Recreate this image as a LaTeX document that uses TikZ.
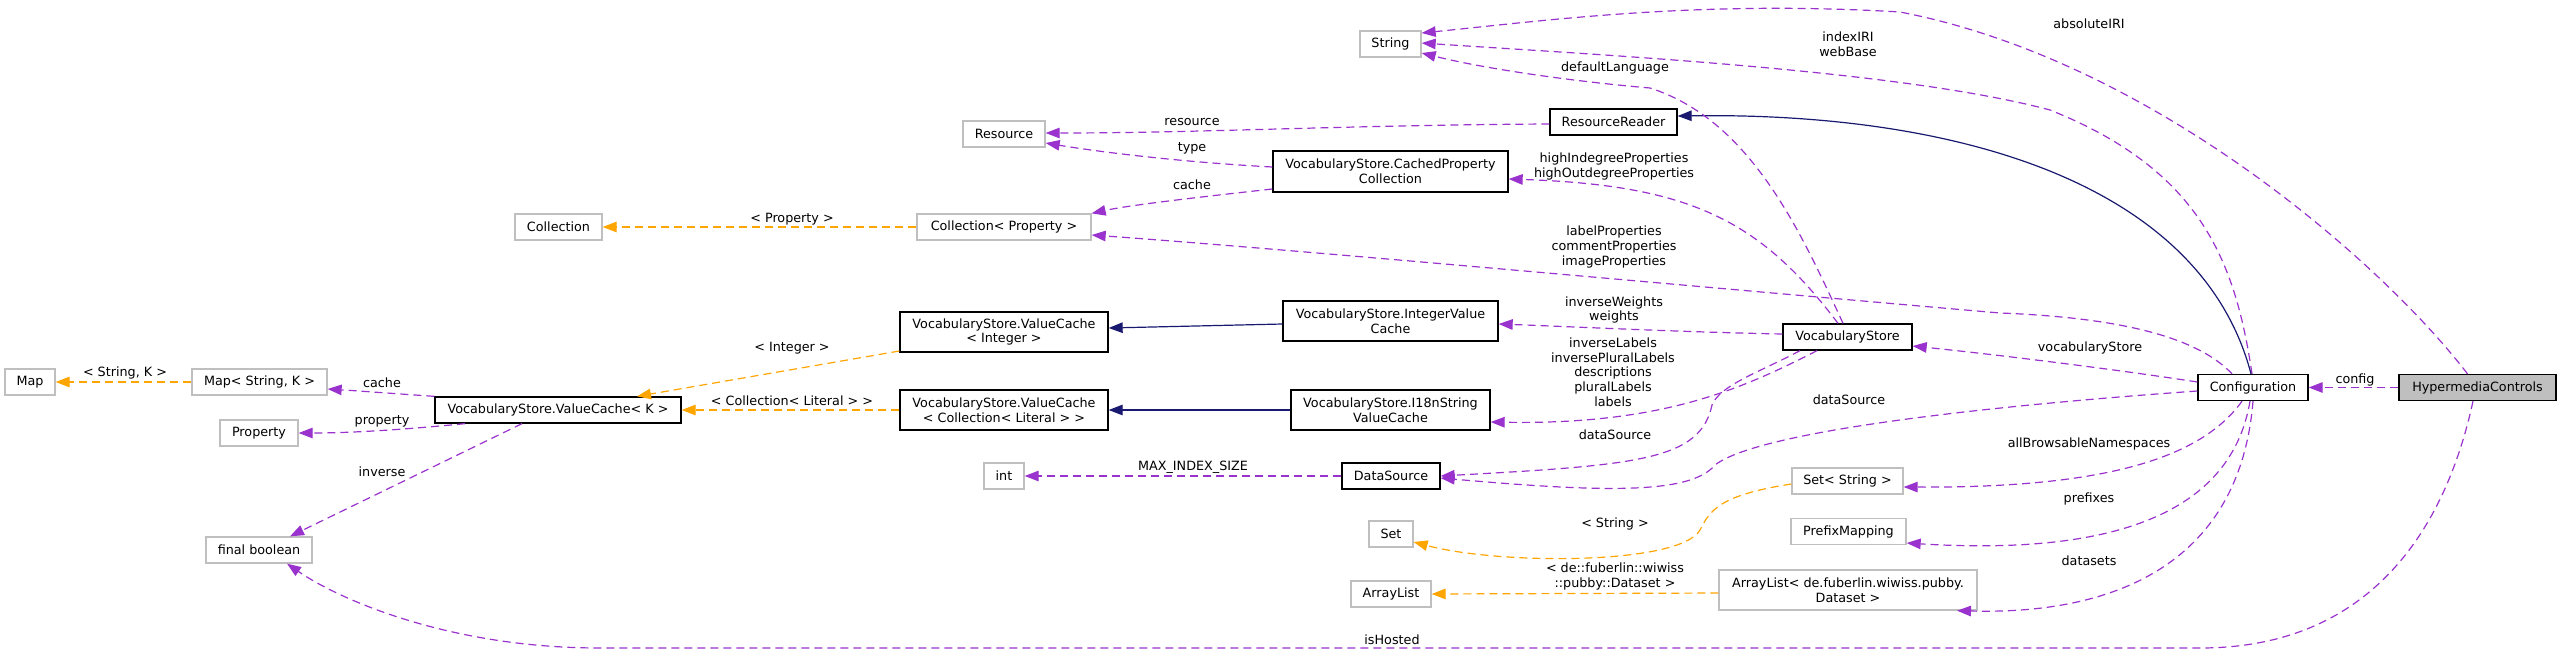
\documentclass[tikz,border=0pt]{standalone}
\usepackage{fontspec}
\setmainfont{DejaVu Sans}
\usetikzlibrary{arrows.meta,calc}
\definecolor{purp}{HTML}{9A32CD}
\definecolor{orng}{HTML}{FFA500}
\definecolor{mblue}{HTML}{191970}
\definecolor{greyA}{HTML}{BFBFBF}
\begin{document}
\begin{tikzpicture}[x=1pt,y=-1pt,
  every node/.style={font=\fontsize{12.75}{14.7}\selectfont},
  sz/.style 2 args={minimum width=#1pt, minimum height=#2pt},
  box/.style={draw=black, line width=1.3pt, fill=white, inner sep=0pt, align=center},
  ext/.style={draw=greyA, line width=1.3pt, fill=white, inner sep=0pt, align=center},
  lbl/.style={inner sep=0pt, align=center},
  mem/.style={draw=purp, line width=1.2pt, dash pattern=on 8pt off 5pt, -{Triangle[length=14pt,width=10.5pt]}},
  tmpl/.style={draw=orng, line width=1.2pt, dash pattern=on 8pt off 5pt, -{Triangle[length=14pt,width=10.5pt]}},
  inh/.style={draw=mblue, line width=1.2pt, -{Triangle[length=14pt,width=10.5pt]}}
]
\useasboundingbox (0,0) rectangle (2561,654);

% nodes
\node[ext, sz={61}{26}] (String) at (1390.5,44) {String};
\node[ext, sz={82}{26}] (Resource) at (1004,134) {Resource};
\node[ext, sz={87}{26}] (Coll) at (558.5,227) {Collection};
\node[ext, sz={174}{26}] (CollP) at (1004,227) {Collection< Property >};
\node[box, sz={127}{26}] (RR) at (1613.5,122) {ResourceReader};
\node[box, sz={235}{41}] (CPC) at (1390.5,171.5) {VocabularyStore.CachedProperty\\Collection};
\node[ext, sz={50}{26}] (Map) at (30,382) {Map};
\node[ext, sz={135}{26}] (MapSK) at (259.5,382) {Map< String, K >};
\node[ext, sz={78}{26}] (Prop) at (259,433) {Property};
\node[box, sz={246}{26}] (VCK) at (558,410) {VocabularyStore.ValueCache< K >};
\node[ext, sz={106}{26}] (FB) at (259,550) {final boolean};
\node[box, sz={208}{40}] (VCI) at (1004,332) {VocabularyStore.ValueCache\\< Integer >};
\node[box, sz={208}{40}] (VCL) at (1004,410) {VocabularyStore.ValueCache\\< Collection< Literal > >};
\node[box, sz={215}{40}] (IVC) at (1390.5,321) {VocabularyStore.IntegerValue\\Cache};
\node[box, sz={199}{40}] (I18) at (1390.5,410) {VocabularyStore.I18nString\\ValueCache};
\node[ext, sz={40}{26}] (Int) at (1004,476) {int};
\node[box, sz={98}{26}] (DS) at (1391,476) {DataSource};
\node[ext, sz={44}{26}] (Set) at (1391,534) {Set};
\node[ext, sz={80}{26}] (AL) at (1391,594) {ArrayList};
\node[box, sz={129}{26}] (VS) at (1847.5,337) {VocabularyStore};
\node[ext, sz={111}{26}] (SetS) at (1847.5,481) {Set< String >};
\node[ext, sz={115}{26}] (PM) at (1848.5,531.5) {PrefixMapping};
\node[ext, sz={258}{40}] (ALD) at (1848,590) {ArrayList< de.fuberlin.wiwiss.pubby.\\Dataset >};
\node[box, sz={110}{26}] (Conf) at (2253,387.5) {Configuration};
\node[box, sz={157}{26}, fill=greyA] (HC) at (2477.5,387.5) {HypermediaControls};

% edges from HypermediaControls
\draw[mem] ($(HC.north)+(-10,0)$) .. controls (2380,260) and (2150,60) .. (1900,12)
  .. controls (1700,0) and (1550,20) .. ($(String.east)+(0,-11)$);
\draw[mem] (HC.west) -- (Conf.east);
\draw[mem] ($(HC.south)+(-4.5,0)$) .. controls (2445,530) and (2370,648) .. (2200,648)
  -- (600,648) .. controls (450,648) and (340,600) .. ($(FB.south)+(28,0)$);

% edges from Configuration
\draw[mem] ($(Conf.north)+(-1,0)$) .. controls (2235,260) and (2200,170) .. (2050,110)
  .. controls (1900,70) and (1600,55) .. ($(String.east)+(0,-1)$);
\draw[inh] ($(Conf.north)+(-2,0)$) .. controls (2200,180) and (1950,112) .. ($(RR.east)+(0,-6)$);
\draw[mem] ($(Conf.north)+(-21,0)$) .. controls (2200,340) and (2130,318) .. (2000,313)
  .. controls (1700,287) and (1300,250) .. ($(CollP.east)+(0,8)$);
\draw[mem] ($(Conf.west)+(0,-5.5)$) .. controls (2120,370) and (2000,355) .. ($(VS.east)+(0,9)$);
\draw[mem] ($(Conf.west)+(0,3.5)$) .. controls (2000,405) and (1760,430) .. (1715,465)
  .. controls (1690,495) and (1600,492) .. ($(DS.east)+(0,2)$);
\draw[mem] ($(Conf.south)+(-11,0)$) .. controls (2200,460) and (2100,488) .. ($(SetS.east)+(0,6)$);
\draw[mem] ($(Conf.south)+(-3,0)$) .. controls (2230,520) and (2100,555) .. ($(PM.east)+(0,11.5)$);
\draw[mem] (Conf.south) .. controls (2240,560) and (2120,615) .. ($(ALD.south)+(109,0)$);

% edges from VocabularyStore
\draw[mem] ($(VS.north)+(-4.5,0)$) .. controls (1800,230) and (1750,120) .. (1650,88)
  .. controls (1580,82) and (1490,70) .. ($(String.east)+(0,9)$);
\draw[mem] ($(VS.north)+(-9.5,0)$) .. controls (1760,220) and (1690,185) .. ($(CPC.east)+(0,7.5)$);
\draw[mem] ($(VS.west)+(0,-3)$) .. controls (1680,332) and (1580,327) .. ($(IVC.east)+(0,3)$);
\draw[mem] ($(VS.south)+(-30.5,0)$) .. controls (1740,390) and (1660,425) .. ($(I18.east)+(0,12)$);
\draw[mem] ($(VS.south)+(-47.5,0)$) .. controls (1760,372) and (1720,385) .. (1712,405)
  .. controls (1700,460) and (1640,465) .. (DS.east);

% left part
\draw[mem] ($(RR.west)+(0,2)$) .. controls (1350,125) and (1200,133) .. ($(Resource.east)+(0,-1)$);
\draw[mem] ($(CPC.west)+(0,-4.5)$) .. controls (1180,162) and (1100,152) .. ($(Resource.east)+(0,9)$);
\draw[mem] ($(CPC.west)+(0,17.5)$) .. controls (1200,197) and (1130,205) .. (CollP.north east);
\draw[tmpl] (CollP.west) -- (Coll.east);
\draw[inh] ($(IVC.west)+(0,3)$) -- ($(VCI.east)+(0,-4)$);
\draw[inh] (I18.west) -- (VCL.east);
\draw[tmpl] ($(VCI.west)+(0,19)$) -- ($(VCK.north)+(79,0)$);
\draw[tmpl] (VCL.west) -- (VCK.east);
\draw[mem] (VCK.north west) .. controls (400,394) and (360,391) .. ($(MapSK.east)+(0,7)$);
\draw[mem] ($(VCK.south)+(-93,0)$) .. controls (420,428) and (360,433) .. (Prop.east);
\draw[mem] ($(VCK.south)+(-36,0)$) -- ($(FB.north)+(31,0)$);
\draw[tmpl] (MapSK.west) -- (Map.east);
\draw[mem] (DS.west) -- (Int.east);
\draw[tmpl] ($(SetS.west)+(0,3)$) .. controls (1720,495) and (1710,510) .. (1700,530)
  .. controls (1680,565) and (1500,565) .. ($(Set.east)+(0,8)$);
\draw[tmpl] ($(ALD.west)+(0,3)$) -- (AL.east);

% labels
\node[lbl] (lAbs) at (2089,24) {absoluteIRI};
\node[lbl] (lIdx) at (1848,44.5) {indexIRI\\webBase};
\node[lbl] (lDef) at (1615,68) {defaultLanguage};
\node[lbl] (lRes) at (1192,122) {resource};
\node[lbl] (lType) at (1192,148) {type};
\node[lbl] (lHigh) at (1614,166.5) {highIndegreeProperties\\highOutdegreeProperties};
\node[lbl] (lCache1) at (1192,185) {cache};
\node[lbl] (lProp) at (792,219) {< Property >};
\node[lbl] (lLab) at (1614,247) {labelProperties\\commentProperties\\imageProperties};
\node[lbl] (lInvW) at (1614,310) {inverseWeights\\weights};
\node[lbl] (lInt) at (792,348) {< Integer >};
\node[lbl] (lVS) at (2090,348) {vocabularyStore};
\node[lbl] (lInvL) at (1613,372) {inverseLabels\\inversePluralLabels\\descriptions\\pluralLabels\\labels};
\node[lbl] (lSK) at (125,373) {< String, K >};
\node[lbl] (lConf) at (2355,380) {config};
\node[lbl] (lCache2) at (382,383) {cache};
\node[lbl] (lDS2) at (1849,400) {dataSource};
\node[lbl] (lCL) at (792,401) {< Collection< Literal > >};
\node[lbl] (lPr) at (382,421) {property};
\node[lbl] (lDS1) at (1615,435) {dataSource};
\node[lbl] (lABN) at (2089,444) {allBrowsableNamespaces};
\node[lbl] (lMax) at (1193,467) {MAX\_INDEX\_SIZE};
\node[lbl] (lInv) at (382,472) {inverse};
\node[lbl] (lPre) at (2089,499) {prefixes};
\node[lbl] (lStr) at (1615,524) {< String >};
\node[lbl] (lDsets) at (2089,561) {datasets};
\node[lbl] (lDe) at (1615,576.5) {< de::fuberlin::wiwiss\\::pubby::Dataset >};
\node[lbl] (lHost) at (1392,640) {isHosted};
\end{tikzpicture}
\end{document}
